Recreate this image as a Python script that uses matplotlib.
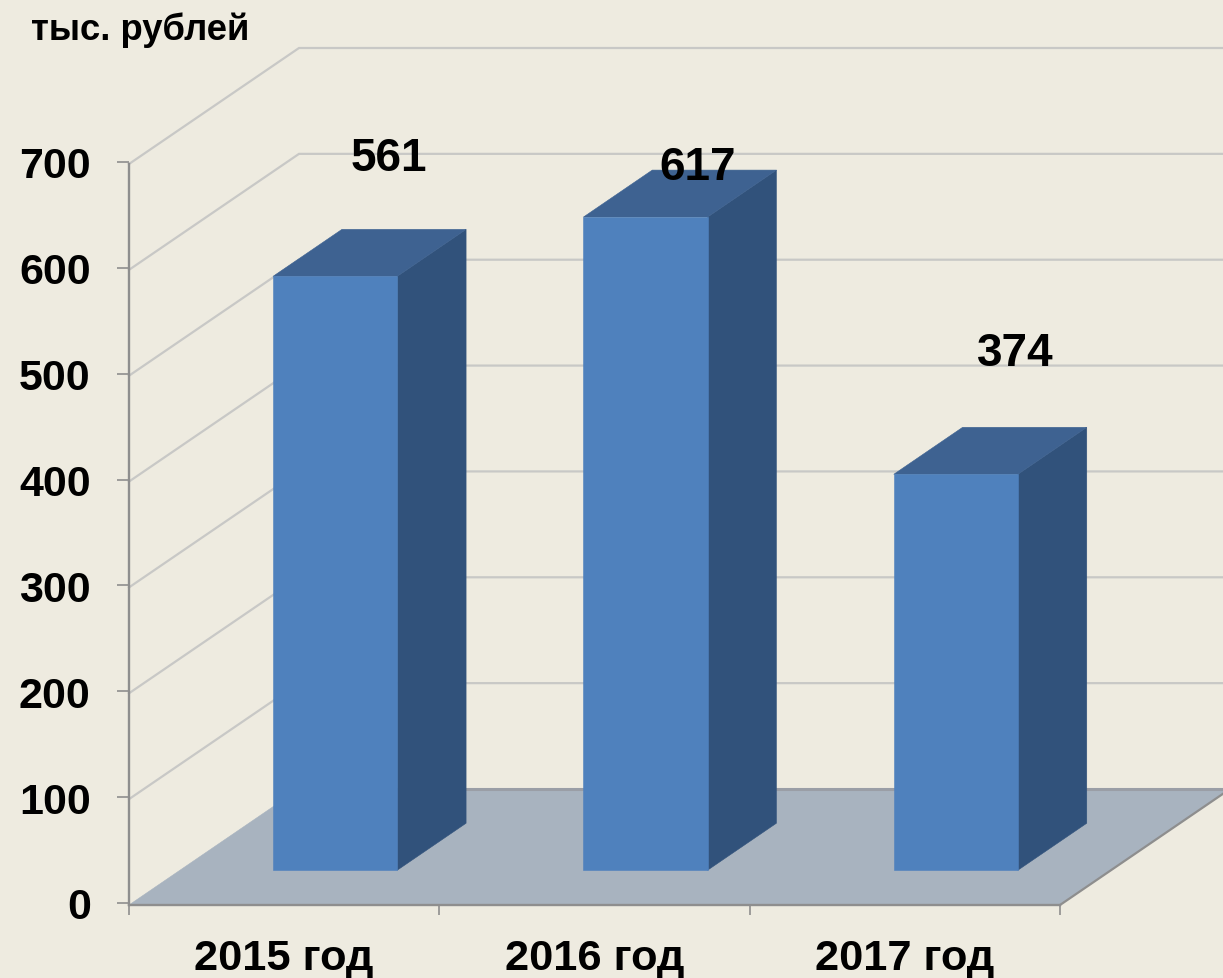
import matplotlib
matplotlib.use("Agg")
import matplotlib.pyplot as plt
from matplotlib.patches import Polygon
from matplotlib.transforms import ScaledTranslation

plt.rcParams['font.family'] = ['Liberation Sans', 'DejaVu Sans']

categories = ['2015 год', '2016 год', '2017 год']
values = [561, 617, 374]
y_ticks = [0, 100, 200, 300, 400, 500, 600, 700]
unit_label = 'тыс. рублей'

BG = '#EEEBE0'
GRID = '#C8C8C6'
AXIS = '#8E8E8E'
FLOOR = '#A8B3BF'
FRONT = '#4F81BD'
SIDE = '#31527B'
TOP = '#3E6291'

W, H = 1223, 979
fig = plt.figure(figsize=(W / 100, H / 100), dpi=100, facecolor=BG)
ax = fig.add_axes([129 / W, (H - 906) / H, 931 / W, 741 / H], facecolor='none')
ax.set_xlim(0, 3)
ax.set_ylim(0, 700)

# Depth vector of the pseudo-3D box, in data units
DEPTH_X = 170 / (931 / 3)
DEPTH_Y = 116 / (741 / 700)
BAR_WIDTH = 0.40
BAR_D0 = 0.30
BAR_D1 = 0.705


def pt(x, y, d=0.0):
    return (x + d * DEPTH_X, y + d * DEPTH_Y)


def face(points, color, z):
    ax.add_patch(Polygon(points, closed=True, facecolor=color, edgecolor=color,
                         linewidth=0.4, zorder=z, clip_on=False))


# Walls: gridlines run along the side wall and then along the back wall
for v in y_ticks[1:]:
    p0, p1, p2 = pt(0, v), pt(0, v, 1), pt(3, v, 1)
    ax.plot([p0[0], p1[0], p2[0]], [p0[1], p1[1], p2[1]], color=GRID, lw=1.6,
            zorder=1, clip_on=False, solid_joinstyle='miter')

# Floor
face([pt(0, 0), pt(3, 0), pt(3, 0, 1), pt(0, 0, 1)], FLOOR, 2)
fx = [pt(3, 0)[0], pt(3, 0, 1)[0]]
fy = [pt(3, 0)[1], pt(3, 0, 1)[1]]
ax.plot(fx, fy, color=AXIS, lw=1.6, zorder=3, clip_on=False)
bx = [pt(0, 0, 1)[0], pt(3, 0, 1)[0]]
by = [pt(0, 0, 1)[1], pt(3, 0, 1)[1]]
ax.plot(bx, by, color='#9A9EA6', lw=2.2, zorder=3, clip_on=False)

# Bars
for i, v in enumerate(values):
    x0 = i + 0.5 - BAR_WIDTH / 2
    x1 = x0 + BAR_WIDTH
    face([pt(x1, 0, BAR_D0), pt(x1, 0, BAR_D1), pt(x1, v, BAR_D1), pt(x1, v, BAR_D0)], SIDE, 4)
    face([pt(x0, v, BAR_D0), pt(x1, v, BAR_D0), pt(x1, v, BAR_D1), pt(x0, v, BAR_D1)], TOP, 5)
    face([pt(x0, 0, BAR_D0), pt(x1, 0, BAR_D0), pt(x1, v, BAR_D0), pt(x0, v, BAR_D0)], FRONT, 6)

# Value labels: hand-placed in the source, given as pixel offsets from each bar's top centre
label_offsets = [(54, 118), (52, 50), (59, 121)]
for i, v in enumerate(values):
    ax.annotate(str(v), xy=pt(i + 0.5, v, BAR_D0), xytext=label_offsets[i],
                textcoords='offset pixels', ha='center', va='center',
                fontsize=33, fontweight='bold', color='black', zorder=8,
                annotation_clip=False)

# Axes
for s in ['top', 'right']:
    ax.spines[s].set_visible(False)
for s in ['left', 'bottom']:
    ax.spines[s].set_color(AXIS)
    ax.spines[s].set_linewidth(1.7)
    ax.spines[s].set_zorder(7)

ax.set_yticks(y_ticks)
ax.set_yticklabels([str(v) for v in y_ticks], fontsize=31, fontweight='bold', color='black')
ax.tick_params(axis='y', length=8.6, width=1.2, color=AXIS, pad=19)

# In the reference the value-axis ticks sit 2 px above the wall lines they belong to
tick_shift = ScaledTranslation(0, 2 / 100, fig.dpi_scale_trans)
for tick in ax.yaxis.get_major_ticks():
    tick.tick1line.set_transform(tick.tick1line.get_transform() + tick_shift)
    tick.label1.set_transform(tick.label1.get_transform() + tick_shift)

ax.set_xticks(range(len(categories) + 1))
ax.set_xticklabels([])
ax.set_xticks([i + 0.5 for i in range(len(categories))], minor=True)
ax.set_xticklabels(categories, minor=True, fontsize=31.2, fontweight='bold', color='black')
ax.tick_params(axis='x', which='major', length=7.5, width=1.2, color=AXIS)
ax.tick_params(axis='x', which='minor', length=0, pad=23.5)

fig.text(31 / W, 1 - 30 / H, unit_label, fontsize=26.3, fontweight='bold', color='black',
         ha='left', va='center')

fig.savefig('out.png', dpi=100, facecolor=BG)
